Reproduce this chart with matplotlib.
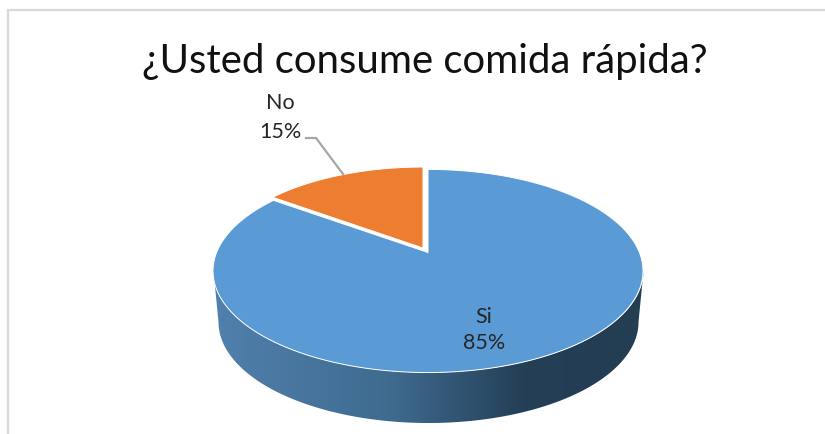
import numpy as np
import matplotlib
matplotlib.use("Agg")
import matplotlib.pyplot as plt
from matplotlib.patches import Polygon
from matplotlib.colors import LinearSegmentedColormap

title = "¿Usted consume comida rápida?"
categories = ["Si", "No"]
values = [85, 15]
colors = ["#5B9BD5", "#ED7D31"]

plt.rcParams['font.family'] = ['Lato', 'DejaVu Sans']
fig = plt.figure(figsize=(8.25, 4.35), dpi=100)
ax = fig.add_axes([0, 0, 1, 1])
ax.set_xlim(0, 825); ax.set_ylim(435, 0); ax.axis('off')

# perspective projection of the pie circle (centre = apex of the wedges)
K, A, B = 0.182, 211.4, 98.2
AX, AY = 428.0, 253.5

def project(theta, r=1.0, ox=0.0, oy=0.0):
    """theta in radians clockwise from 12 o'clock"""
    u, v = r*np.sin(theta), r*np.cos(theta)
    d = 1 + K*v
    return AX + ox + A*u/d, AY + oy - B*v/d

# side wall with a horizontal gradient
rx_top, ry_top, cx_top, cy_top = 215.0, 101.5, 428.5, 272.0
rx_bot, ry_bot, cx_bot, cy_bot = 210.0, 101.0, 428.5, 323.0
s = np.linspace(0, np.pi, 361)
top_arc = np.c_[cx_top - rx_top*np.cos(s), cy_top + ry_top*np.sin(s)]
bot_arc = np.c_[cx_bot + rx_bot*np.cos(s), cy_bot + ry_bot*np.sin(s)]
wall = Polygon(np.r_[top_arc, bot_arc], closed=True, fc='none', ec='none')
ax.add_patch(wall)
cmap = LinearSegmentedColormap.from_list(
    "wall", [(0, "#5080AC"), (0.42, "#3E6A8E"), (0.72, "#243F56"), (1, "#233D53")])
im = ax.imshow(np.linspace(0, 1, 430)[None, :], cmap=cmap, aspect='auto',
               extent=(214, 644, 435, 260), zorder=1)
ax.set_xlim(0, 825); ax.set_ylim(435, 0)
im.set_clip_path(wall)

# top face
fractions = np.array(values, float)/sum(values)
start = 0.0
offsets = {"Si": (0, 0, 1.0), "No": (-5, -4.5, 0.97)}
for cat, frac, col in zip(categories, fractions, colors):
    th = np.linspace(start, start + 2*np.pi*frac, 300)
    ox, oy, r = offsets[cat]
    x, y = project(th, r, ox, oy)
    pts = np.r_[[[AX+ox, AY+oy]], np.c_[x, y]]
    ax.add_patch(Polygon(pts, closed=True, fc=col, ec='white', lw=0.7,
                         joinstyle='miter', zorder=2))
    start += 2*np.pi*frac

# leader line
ax.plot([306, 316, 343], [139, 139, 175], color='#A6A6A6', lw=1.6, zorder=3,
        solid_joinstyle='miter')

# data labels
lab = {"Si": (484, 317, 343), "No": (280, 103, 132)}
for cat, v in zip(categories, values):
    x, y1, y2 = lab[cat]
    ax.text(x, y1, cat, ha='center', va='center', fontsize=15.5, color='#262626', zorder=4)
    ax.text(x, y2, f"{v}%", ha='center', va='center', fontsize=15.5, color='#262626', zorder=4)

ax.text(425, 61, title, ha='center', va='center', fontsize=28.9, color='#111111', zorder=4)

# frame
ax.plot([825, 8, 8], [10.5, 10.5, 435], color='#D9D9D9', lw=1.6, zorder=0,
        solid_joinstyle='miter')

fig.savefig("out.png", dpi=100, facecolor='white')
